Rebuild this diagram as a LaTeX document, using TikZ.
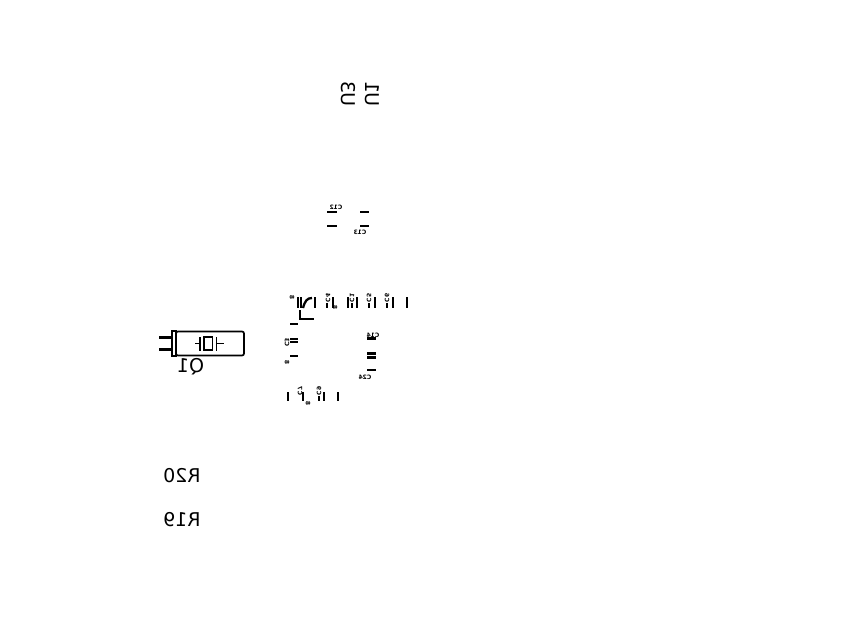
\documentclass[tikz,border=0pt]{standalone}
\usepackage{fontspec}
\setmainfont{DejaVu Sans}
\usetikzlibrary{positioning}
\tikzset{
  silk/.style={line width=1.7pt},
  pad/.style={line width=2.3pt},
  mirlabel/.style={transform shape, xscale=-1, inner sep=0pt, font=\fontsize{19}{19}\selectfont},
  tinylabel/.style={transform shape, xscale=-1, inner sep=0pt, font=\bfseries\fontsize{6}{6}\selectfont}
}
\begin{document}
\begin{tikzpicture}[x=1pt,y=-1pt]
\useasboundingbox (0,0) rectangle (863,642);
\node[mirlabel, rotate=90] (u3) at (348,94) {U3};
\node[mirlabel, rotate=90] (u1) at (372,94) {U1};
\node[mirlabel] (r20) at (182,476) {R20};
\node[mirlabel] (r19) at (182,520) {R19};
\node[mirlabel] (q1) at (190.5,367) {Q1};
% crystal
\node[draw, silk, rounded corners=2pt, minimum width=68pt, minimum height=24pt, inner sep=0pt] (can) at (210,343.5) {};
\draw[silk] (172,331) rectangle (176,356);
\draw[line width=3pt] (159,337) -- (172,337);
\draw[line width=3pt] (159,349) -- (172,349);
\draw[silk] (195,343.5) -- (200,343.5);
\draw[silk] (200,337) -- (200,351);
\draw[silk] (204,337) rectangle (212.5,350);
\draw[silk] (216.5,337) -- (216.5,351);
\draw[silk] (216.5,343.5) -- (224,343.5);
% small caps
\draw[pad] (327,212) -- (337,212);
\draw[pad] (327,226) -- (337,226);
\draw[pad] (360,212) -- (369,212);
\draw[pad] (360,226) -- (369,226);
\node[tinylabel] (c12) at (336,207.5) {C12};
\node[tinylabel] (c13) at (360,232) {C13};
% top row of pins
\foreach \px in {298,301,315,333,348,357,375,393,407}
  \draw[pad] (\px,297) -- (\px,308);
\foreach \px in {327,352,369,387}
  \draw[pad] (\px,303) -- (\px,308);
\draw[pad] (303,308) .. controls (305,301) and (307,298) .. (312,298);
\draw[pad] (300,310) -- (300,319) -- (314,319);
\node[tinylabel, rotate=90] (c1) at (292,297) {8};
\node[tinylabel, rotate=90] (c2) at (328,298) {C4};
\node[tinylabel, rotate=90] (c3) at (335,307) {8};
\node[tinylabel, rotate=90] (c4) at (352,298) {C1};
\node[tinylabel, rotate=90] (c5) at (369,298) {C5};
\node[tinylabel, rotate=90] (c6) at (387,298) {C6};
% left pins
\draw[pad] (290,324) -- (298,324);
\draw[pad] (290,339) -- (298,339);
\draw[pad] (290,342) -- (298,342);
\draw[pad] (290,356) -- (298,356);
\node[tinylabel, rotate=90] (c7) at (287,342.5) {C3};
\node[tinylabel, rotate=90] (c8) at (287,362) {8};
% right pins
\draw[pad] (367,338.5) -- (376,338.5);
\draw[pad] (367,353.5) -- (376,353.5);
\draw[pad] (367,357.5) -- (376,357.5);
\draw[pad] (367,370) -- (376,370);
\node[tinylabel] (c14) at (373,335) {C14};
\node[tinylabel] (c24) at (365,377) {C24};
% bottom row of pins
\foreach \px in {288,303,324,338}
  \draw[pad] (\px,392) -- (\px,401);
\foreach \px in {319}
  \draw[pad] (\px,396) -- (\px,401);
\node[tinylabel, rotate=90] (c9) at (300,391) {C7};
\node[tinylabel, rotate=90] (c10) at (308,403) {8};
\node[tinylabel, rotate=90] (c11) at (319,391) {C9};
\end{tikzpicture}
\end{document}
